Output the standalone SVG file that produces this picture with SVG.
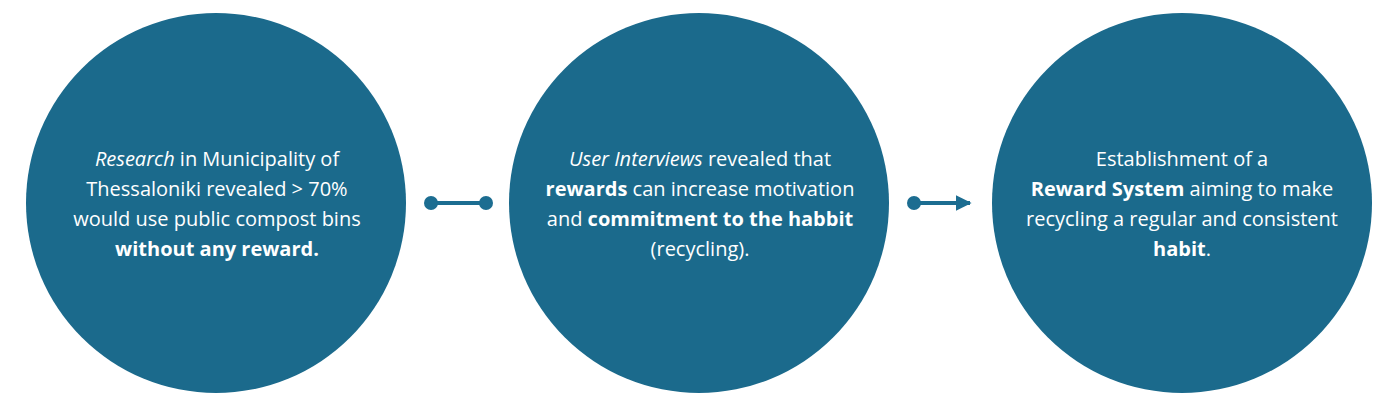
<svg xmlns="http://www.w3.org/2000/svg" width="1400" height="405" viewBox="0 0 1400 405">
<style>
.node{fill:#1b6a8c}
.t{font-family:"Open Sans","Noto Sans","Liberation Sans",sans-serif;font-size:20px;fill:#ffffff;text-anchor:middle}
.i{font-style:italic}
.b{font-weight:700}
.c{stroke:#1c6d91;stroke-width:4;fill:none}
.d{fill:#1c6d91}
</style>
<defs>
<marker id="arrow" viewBox="0 0 10 10" refX="9" refY="5" markerWidth="4" markerHeight="4" orient="auto" markerUnits="strokeWidth">
<path d="M0,0 L10,5 L0,10 z" fill="#1c6d91"/>
</marker>
</defs>
<g id="node-research">
<circle class="node" cx="216" cy="203" r="190"/>
<text class="t" x="217" y="166"><tspan class="i">Research</tspan> in Municipality of</text>
<text class="t" x="217" y="196">Thessaloniki revealed &gt; 70%</text>
<text class="t" x="217" y="226">would use public compost bins</text>
<text class="t b" x="217" y="256">without any reward.</text>
</g>
<g id="node-interviews">
<circle class="node" cx="699" cy="203" r="190"/>
<text class="t" x="700" y="166"><tspan class="i">User Interviews</tspan> revealed that</text>
<text class="t" x="700" y="196"><tspan class="b">rewards</tspan> can increase motivation</text>
<text class="t" x="700" y="226">and <tspan class="b">commitment to the habbit</tspan></text>
<text class="t" x="700" y="256">(recycling).</text>
</g>
<g id="node-reward">
<circle class="node" cx="1182" cy="203" r="190"/>
<text class="t" x="1182" y="166">Establishment of a</text>
<text class="t" x="1182" y="196"><tspan class="b">Reward System</tspan> aiming to make</text>
<text class="t" x="1182" y="226">recycling a regular and consistent</text>
<text class="t" x="1182" y="256"><tspan class="b">habit</tspan>.</text>
</g>
<g id="connectors">
<line class="c" x1="431" y1="203" x2="486" y2="203"/>
<circle class="d" cx="431" cy="203" r="7"/>
<circle class="d" cx="486" cy="203" r="7"/>
<line class="c" x1="914" y1="203" x2="970" y2="203" marker-end="url(#arrow)"/>
<circle class="d" cx="914" cy="203" r="7"/>
</g>
</svg>
